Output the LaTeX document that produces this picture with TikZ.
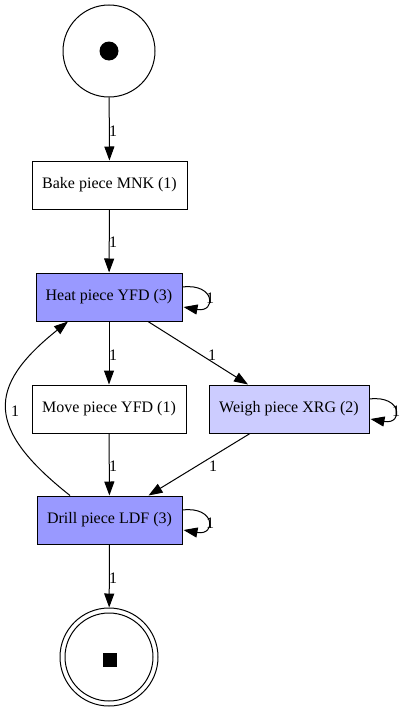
\documentclass[tikz,border=0pt]{standalone}
\usepackage{fontspec}
\setmainfont{Liberation Serif}
\usetikzlibrary{arrows.meta,calc}
\definecolor{hot}{HTML}{9999FF}
\definecolor{warm}{HTML}{CCCCFF}
\begin{document}
\begin{tikzpicture}[x=1pt,y=-1pt,
  every node/.style={font=\fontsize{16}{18}\selectfont},
  trans/.style={draw,line width=1pt,minimum height=48pt,inner sep=0pt},
  arc/.style={line width=1pt,-{Triangle[length=14pt,width=10pt]}},
  lab/.style={inner sep=0pt}]
\useasboundingbox (0,0) rectangle (406,712);
% places
\node[draw,circle,line width=1pt,minimum size=92pt,inner sep=0pt] (start) at (109,51) {};
\node[circle,fill=black,minimum size=19pt,inner sep=0pt] (tok) at (109,51) {};
\node[draw,circle,line width=1pt,minimum size=98pt,inner sep=0pt] (endo) at (109,657) {};
\node[draw,circle,line width=1pt,minimum size=88pt,inner sep=0pt] (endi) at (109,657) {};
\node[fill=black,minimum size=14pt,inner sep=0pt] (sq) at (110,660) {};
% transitions
\node[trans,minimum width=155pt] (bake) at (109.5,185) {Bake piece MNK (1)};
\node[trans,minimum width=146pt,fill=hot] (heat) at (109,297) {Heat piece YFD (3)};
\node[trans,minimum width=154pt] (move) at (109,409) {Move piece YFD (1)};
\node[trans,minimum width=160pt,fill=warm] (weigh) at (289,409) {Weigh piece XRG (2)};
\node[trans,minimum width=145pt,fill=hot] (drill) at (109.5,520) {Drill piece LDF (3)};
% arcs
\draw[arc] (start) -- (bake);
\draw[arc] (bake) -- (heat);
\draw[arc] (heat) -- (move);
\draw[arc] (move) -- (drill);
\draw[arc] (drill) -- (endo);
\draw[arc] ($(heat.south)+(39,0)$) -- ($(weigh.north)+(-41,0)$);
\draw[arc] ($(weigh.south)+(-39,0)$) -- ($(drill.north)+(39,0)$);
\draw[arc] ($(drill.north)+(-39.5,0)$) .. controls (-14,429) and (-14,387) .. ($(heat.south)+(-41,0)$);
\draw[arc] ($(heat.east)+(0,-10)$) .. controls +(33,-4) and +(33,6) .. ($(heat.east)+(1,10)$);
\draw[arc] ($(weigh.east)+(0,-10)$) .. controls +(33,-4) and +(33,6) .. ($(weigh.east)+(1,10)$);
\draw[arc] ($(drill.east)+(0,-10)$) .. controls +(33,-4) and +(33,6) .. ($(drill.east)+(1,10)$);
% labels
\node[lab] (l1) at (113,131) {1};
\node[lab] (l2) at (113,242) {1};
\node[lab] (l3) at (113,355) {1};
\node[lab] (l4) at (212,355) {1};
\node[lab] (l5) at (113,466) {1};
\node[lab] (l6) at (213,466) {1};
\node[lab] (l7) at (15,411) {1};
\node[lab] (l8) at (113,578) {1};
\node[lab] (l9) at (210,298) {1};
\node[lab] (l10) at (396,411) {1};
\node[lab] (l11) at (210,523) {1};
\end{tikzpicture}
\end{document}
